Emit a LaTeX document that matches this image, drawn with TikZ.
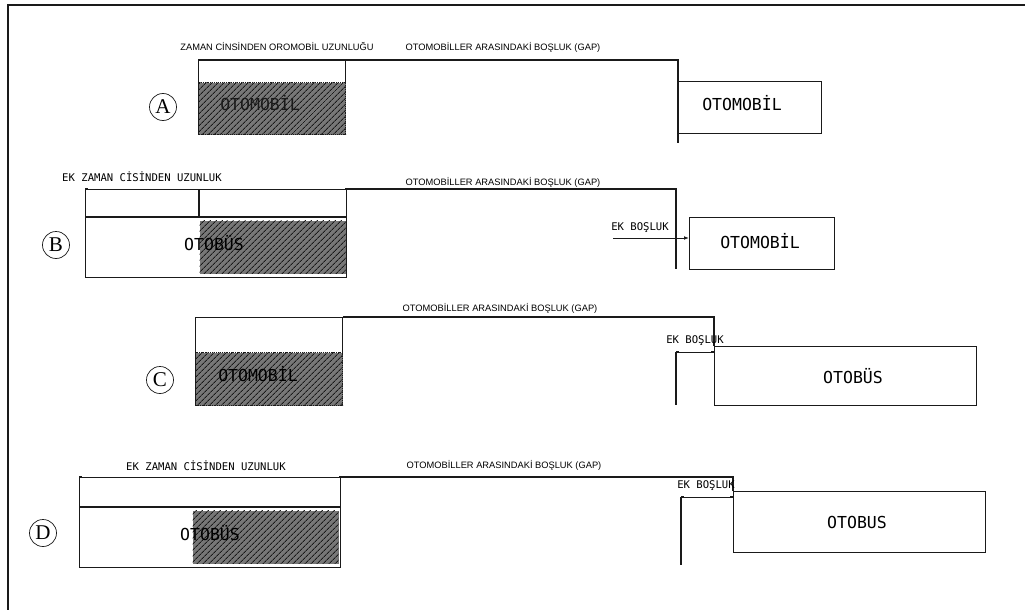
\documentclass[tikz,border=0pt]{standalone}
\usepackage{fontspec}
\setmainfont{Liberation Sans}
\newfontfamily\cadfont{DejaVu Sans Mono}
\newfontfamily\rowfont{Liberation Serif}
\usepackage{tikz}
\usetikzlibrary{positioning,arrows.meta,patterns.meta}
\definecolor{Ink}{HTML}{1A1A1A}
\definecolor{Hatch}{HTML}{777777}

\begin{document}
\begin{tikzpicture}[
      x=1pt, y=-1pt,
      line width=1.1pt, draw=Ink,
      box/.style={draw=Ink, line width=1.1pt, anchor=north west, inner sep=0pt},
      hatch/.style={anchor=north west, inner sep=0pt, fill=Hatch,
        postaction={pattern={Lines[angle=45, distance=4pt, line width=1pt]}, pattern color=Ink}},
      lab/.style={font=\fontsize{9.3}{11}\selectfont, inner sep=1pt},
      cadlab/.style={font=\cadfont\fontsize{10.6}{12}\selectfont, inner sep=1pt},
      veh/.style={font=\cadfont\fontsize{16.5}{18}\selectfont},
      rowmark/.style={draw=Ink, circle, line width=0.7pt, minimum size=27pt, inner sep=0pt, font=\rowfont\fontsize{21}{22}\selectfont},
      dim/.style={{Square[length=2.6pt]}-{Square[length=2.6pt]}, line width=1pt},
      ekarr/.style={-{Latex[length=5pt]}, line width=1pt}
    ]
    \useasboundingbox (0,0) rectangle (1025,610);
    \draw[line width=1.5pt] (8,5) rectangle (1040,625);

    % row A
    \node[rowmark] (cA) at (163,107) {A};
    \node[box, minimum width=147pt, minimum height=74pt] (carA) at (198,60) {};
    \node[hatch, draw=Ink, densely dotted, minimum width=147pt, minimum height=52pt] (carAh) at (198,82) {};
    \node[veh, text=Ink] (carAt) at (260,103) {OTOMOBİL};
    \node[lab] (zA) at (277,47) {ZAMAN CİNSİNDEN OROMOBİL UZUNLUĞU};
    \node[lab] (gA) at (503,47) {OTOMOBİLLER ARASINDAKİ BOŞLUK (GAP)};
    \node[box, minimum width=143pt, minimum height=52pt] (nextA) at (678,81) {};
    \node[veh] (nextAt) at (742,103) {OTOMOBİL};
    \coordinate (gA1) at (678,60);
    \coordinate (gA2) at (678,143);
    \draw[dim] (carA.north west) -- (carA.north east);
    \draw (carA.north east) -- (gA1) -- (gA2);
    \draw[line width=2.2pt] (363,60) -- (512,60);

    % row B
    \node[rowmark] (cB) at (56,245) {B};
    \node[box, minimum width=261pt, minimum height=88pt] (busB) at (85,189) {};
    \coordinate (bB1) at (85,217);
    \coordinate (bB2) at (346,217);
    \coordinate (bB3) at (199,189);
    \coordinate (bB4) at (199,217);
    \draw (bB1) -- (bB2);
    \draw (bB3) -- (bB4);
    \node[hatch, minimum width=146pt, minimum height=53pt] (busBh) at (199,220) {};
    \node[veh] (busBt) at (214,243) {OTOBÜS};
    \node[cadlab] (zB) at (142,177) {EK ZAMAN CİSİNDEN UZUNLUK};
    \node[lab] (gB) at (503,182) {OTOMOBİLLER ARASINDAKİ BOŞLUK (GAP)};
    \draw[dim] (busB.north west) -- (busB.north east);
    \coordinate (gB1) at (676,189);
    \coordinate (gB2) at (676,269);
    \draw (busB.north east) -- (gB1) -- (gB2);
    \node[box, minimum width=145pt, minimum height=52pt] (nextB) at (689,217) {};
    \node[veh] (nextBt) at (760,241) {OTOMOBİL};
    \node[cadlab] (ekB) at (640,228) {EK BOŞLUK};
    \coordinate (eB1) at (613,238);
    \draw[ekarr] (eB1) -- (eB1 -| nextB.west);

    % row C
    \node[rowmark] (cC) at (160,380) {C};
    \node[box, minimum width=147pt, minimum height=88pt] (carC) at (195,317) {};
    \node[hatch, draw=Ink, densely dotted, minimum width=147pt, minimum height=53pt] (carCh) at (195,352) {};
    \node[veh] (carCt) at (258,374) {OTOMOBİL};
    \node[lab] (gC) at (500,308) {OTOMOBİLLER ARASINDAKİ BOŞLUK (GAP)};
    \node[box, minimum width=262pt, minimum height=59pt] (busC) at (714,346) {};
    \node[veh] (busCt) at (853,376) {OTOBÜS};
    \coordinate (gC1) at (714,317);
    \draw (carC.north east) -- (gC1) -- (busC.north west);
    \node[cadlab] (ekC) at (695,341) {EK BOŞLUK};
    \coordinate (eC1) at (676,352);
    \coordinate (eC2) at (676,405);
    \coordinate (eC3) at (714,352);
    \draw[dim] (eC1) -- (eC3);
    \draw (eC1) -- (eC2);

    % row D
    \node[rowmark] (cD) at (43,533) {D};
    \node[box, minimum width=261pt, minimum height=90pt] (busD) at (79,477) {};
    \coordinate (bD1) at (79,507);
    \coordinate (bD2) at (340,507);
    \draw (bD1) -- (bD2);
    \node[hatch, minimum width=146pt, minimum height=53pt] (busDh) at (192,510) {};
    \node[veh] (busDt) at (210,533) {OTOBÜS};
    \node[cadlab] (zD) at (206,466) {EK ZAMAN CİSİNDEN UZUNLUK};
    \node[lab] (gD) at (504,465) {OTOMOBİLLER ARASINDAKİ BOŞLUK (GAP)};
    \draw[dim] (busD.north west) -- (busD.north east);
    \node[box, minimum width=252pt, minimum height=61pt] (busD2) at (733,491) {};
    \node[veh] (busD2t) at (857,522) {OTOBUS};
    \coordinate (gD1) at (733,477);
    \draw (busD.north east) -- (gD1) -- (busD2.north west);
    \node[cadlab] (ekD) at (706,486) {EK BOŞLUK};
    \coordinate (eD1) at (681,497);
    \coordinate (eD2) at (681,565);
    \coordinate (eD3) at (733,497);
    \draw[dim] (eD1) -- (eD3);
    \draw (eD1) -- (eD2);
  \end{tikzpicture}
\end{document}
